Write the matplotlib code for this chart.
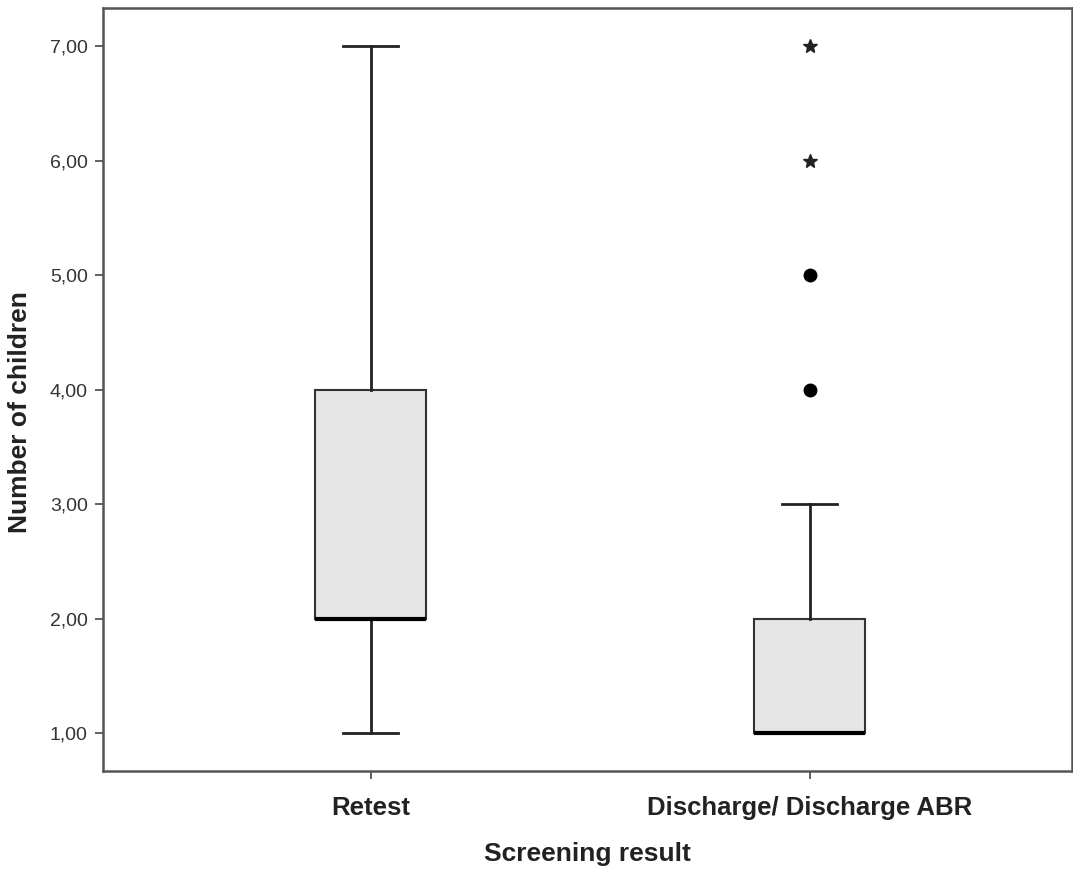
import matplotlib
matplotlib.use("Agg")
import matplotlib.pyplot as plt

categories = ["Retest", "Discharge/ Discharge ABR"]
whislo = [1, 1]
q1 = [2, 1]
med = [2, 1]
q3 = [4, 2]
whishi = [7, 3]
outliers = [[], [4, 5]]
extremes = [[], [6, 7]]
yticks = [1, 2, 3, 4, 5, 6, 7]

plt.rcParams['font.family'] = ['Liberation Sans', 'DejaVu Sans']
fig = plt.figure(figsize=(10.73, 8.72), dpi=100)
ax = fig.add_axes([0.096, 0.1158, 0.903, 0.875])

positions = [1, 2]
stats = []
for i, c in enumerate(categories):
    stats.append(dict(label=c, whislo=whislo[i], q1=q1[i], med=med[i],
                      q3=q3[i], whishi=whishi[i], fliers=[]))

ax.bxp(stats, positions=positions, widths=0.253, patch_artist=True,
       showfliers=False,
       boxprops=dict(facecolor='#e6e6e6', edgecolor='#333333', linewidth=1.5),
       medianprops=dict(color='black', linewidth=3),
       whiskerprops=dict(color='#222222', linewidth=2),
       capprops=dict(color='#222222', linewidth=2),
       capwidths=0.125)

for i, p in enumerate(positions):
    if outliers[i]:
        ax.plot([p] * len(outliers[i]), outliers[i], 'o', color='black',
                markersize=9, linestyle='none')
    if extremes[i]:
        ax.plot([p] * len(extremes[i]), extremes[i], '*', color='#222222',
                markersize=10, linestyle='none')

ax.set_xlim(0.39, 2.597)
ax.set_ylim(0.668, 7.332)
ax.set_yticks(yticks)
ax.set_yticklabels([f"{v:.2f}".replace('.', ',') for v in yticks],
                   fontsize=14, color='#333333')
ax.set_xticks(positions)
ax.set_xticklabels(categories, fontsize=18.5, fontweight='bold', color='#222222')
ax.tick_params(axis='both', direction='out', length=6, width=1.2, color='#444444')
ax.tick_params(axis='x', pad=12)
ax.tick_params(axis='y', pad=5)
for s in ax.spines.values():
    s.set_color('#555555')
    s.set_linewidth(1.8)

ax.set_xlabel("Screening result", fontsize=19, fontweight='bold', labelpad=16,
              color='#222222')
ax.set_ylabel("Number of children", fontsize=19, fontweight='bold',
              color='#222222')
ax.yaxis.set_label_coords(-0.073, 0.47)

fig.savefig("out.png", dpi=100)
